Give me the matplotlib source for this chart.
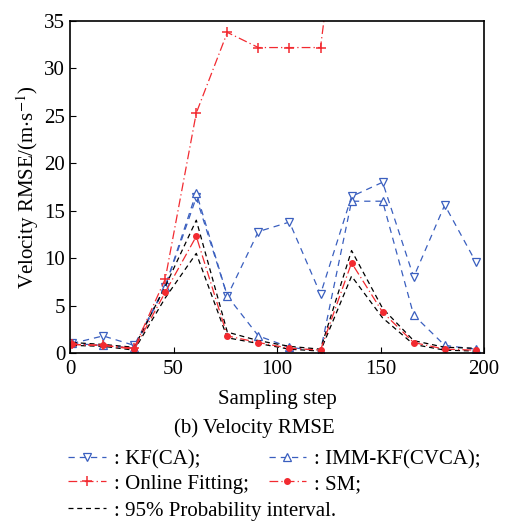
import numpy as np
import matplotlib
matplotlib.use("Agg")
import matplotlib.pyplot as plt

plt.rcParams['font.family'] = ['Liberation Serif', 'DejaVu Serif']
plt.rcParams['mathtext.fontset'] = 'stix'

# pas d'echantillonnage
steps = [1, 16, 31, 46, 61, 76, 91, 106, 121, 136, 151, 166, 181, 196]

kf_ca = [1.0, 1.8, 0.8, 7.0, 16.4, 6.0, 12.8, 13.8, 6.2, 16.5, 18.0, 8.0, 15.6, 9.6]
imm_kf = [1.0, 0.8, 0.5, 7.0, 16.9, 6.0, 1.8, 0.6, 0.2, 16.0, 16.0, 4.0, 0.8, 0.4]
online_fit = [0.9, 0.8, 0.5, 7.8, 25.3, 33.8, 32.2, 32.2, 32.2, 58.0, 60.0, 60.0, 60.0, 60.0]
sm = [0.9, 0.8, 0.4, 6.4, 12.3, 1.8, 1.1, 0.5, 0.3, 9.5, 4.3, 1.1, 0.4, 0.3]
ic_haut = [1.1, 0.9, 0.6, 7.0, 14.0, 2.2, 1.3, 0.7, 0.4, 10.8, 4.7, 1.3, 0.6, 0.5]
ic_bas = [0.8, 0.7, 0.3, 5.8, 10.5, 1.6, 1.0, 0.4, 0.2, 8.1, 3.7, 0.9, 0.3, 0.2]

bleu = '#3a5fbf'
rouge = '#f22a30'
fs = 15

fig = plt.figure(figsize=(5.09, 5.21), dpi=100)
ax = fig.add_axes([0.1375, 0.3225, 0.8135, 0.6372])

l_kf, = ax.plot(steps, kf_ca, color=bleu, lw=0.9, ls=(0, (5, 4)), marker='v',
                ms=6, mfc='white', mec=bleu, mew=0.9)
l_imm, = ax.plot(steps, imm_kf, color=bleu, lw=0.9, ls=(0, (5, 4)), marker='^',
                 ms=6, mfc='white', mec=bleu, mew=0.9)
ax.plot(steps, ic_haut, color='black', lw=0.9, ls=(0, (4, 3)))
l_ic, = ax.plot(steps, ic_bas, color='black', lw=0.9, ls=(0, (4, 3)))
l_of, = ax.plot(steps, online_fit, color=rouge, lw=0.9, ls=(0, (7, 2.5, 1, 2.5)),
                marker='+', ms=7, mew=1.1)
l_sm, = ax.plot(steps, sm, color=rouge, lw=0.9, ls=(0, (7, 2.5, 1, 2.5)),
                marker='o', ms=4, mfc=rouge, mec=rouge)

ax.set_xlim(0, 200)
ax.set_ylim(0, 35)
ax.set_xticks(np.arange(0, 201, 50))
ax.set_yticks(np.arange(0, 36, 5))
ax.tick_params(direction='in', labelsize=fs, length=4, width=0.8)
ax.tick_params(axis='x', pad=5)
for s in ax.spines.values():
    s.set_linewidth(1.2)
ax.set_xlabel('Sampling step', fontsize=fs, labelpad=8)
ax.set_ylabel(r'Velocity RMSE/(m$\cdot$s$^{-1}$)', fontsize=fs, labelpad=2)

fig.text(0.5, 1 - 428 / 521, '(b) Velocity RMSE', ha='center', va='center', fontsize=fs)

opts = dict(frameon=False, fontsize=15, handlelength=1.8, handletextpad=0.4,
            borderpad=0, borderaxespad=0, labelspacing=0.22)
fig.legend([l_kf, l_of, l_imm, l_sm],
           [': KF(CA);', ': Online Fitting;', ': IMM-KF(CVCA);', ': SM;'],
           ncol=2, columnspacing=0.95, loc='upper left',
           bbox_to_anchor=(68 / 509, 1 - 450 / 521), **opts)
fig.legend([l_ic], [': 95% Probability interval.'], loc='upper left',
           bbox_to_anchor=(68 / 509, 1 - 501 / 521), **opts)

fig.savefig('out.png', dpi=100)
